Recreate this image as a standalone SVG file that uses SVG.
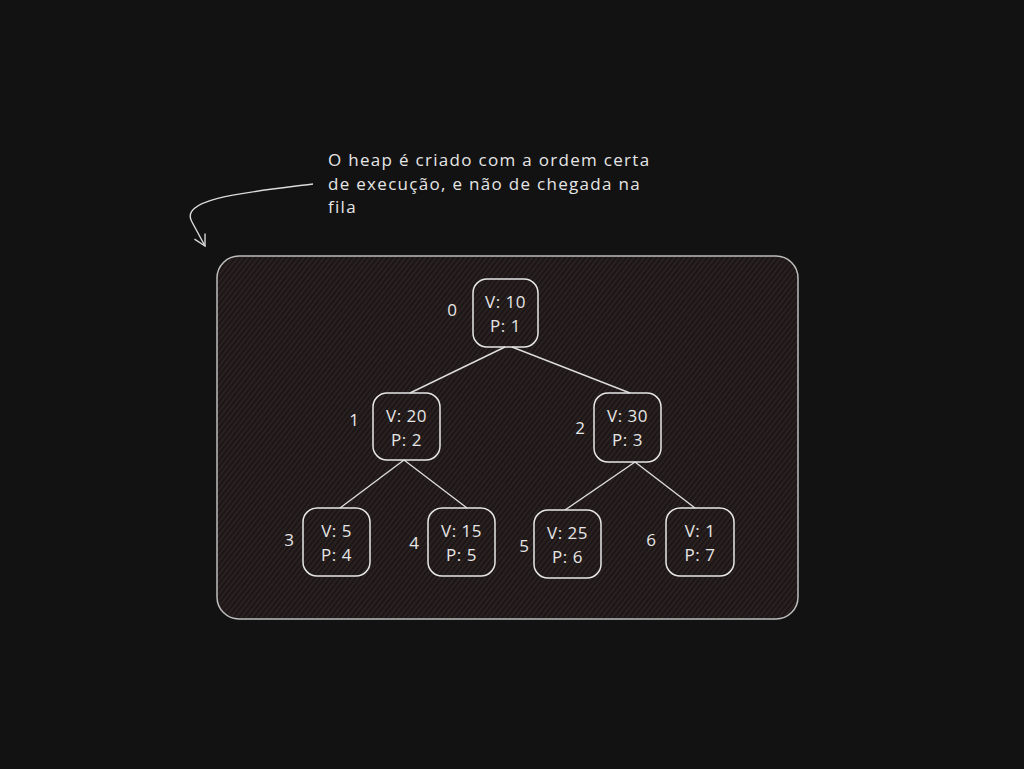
<svg xmlns="http://www.w3.org/2000/svg" width="1024" height="769" viewBox="0 0 1024 769">
<defs>
<pattern id="hatch" patternUnits="userSpaceOnUse" width="4" height="4" patternTransform="rotate(-52)">
<rect width="4" height="4" fill="#1c1616"/>
<line x1="0" y1="2" x2="4" y2="2" stroke="#342a2a" stroke-width="1.1"/>
</pattern>
<marker id="ah" markerWidth="14" markerHeight="14" refX="12" refY="7" orient="auto" markerUnits="userSpaceOnUse">
<path d="M1,1 L12,7 L1,13" fill="none" stroke="#d8d8d8" stroke-width="1.4"/>
</marker>
<style>
.box{fill:none;stroke:#e6e6e6;stroke-width:1.5}
.t{font-family:"Open Sans","Liberation Sans",sans-serif;font-size:17px;fill:#e6e6e6;text-anchor:middle;letter-spacing:0.5px}
.lbl{font-family:"Open Sans","Liberation Sans",sans-serif;font-size:17px;fill:#e6e6e6;text-anchor:middle}
.note{font-family:"Open Sans","Liberation Sans",sans-serif;font-size:17px;fill:#e6e6e6;letter-spacing:1.3px}
.e{stroke:#dcdcdc;stroke-width:1.4;fill:none}
</style>
</defs>
<rect width="1024" height="769" fill="#121212"/>
<g id="container">
<rect x="217" y="256" width="581" height="363" rx="22" fill="url(#hatch)" stroke="#bdbdbd" stroke-width="1.5"/>
</g>
<g id="note">
<text class="note" x="328" y="166">O heap é criado com a ordem certa</text>
<text class="note" x="328" y="190">de execução, e não de chegada na</text>
<text class="note" x="328" y="213">fila</text>
</g>
<g id="connectors">
<path class="e" d="M313,184 C 250,192 178,198 192,222 L205,246" marker-end="url(#ah)"/>
<line class="e" x1="505" y1="347" x2="410" y2="393"/>
<line class="e" x1="512" y1="347" x2="630" y2="393"/>
<line class="e" x1="404" y1="460" x2="340" y2="508"/>
<line class="e" x1="404" y1="460" x2="467" y2="508"/>
<line class="e" x1="635" y1="462" x2="565" y2="510"/>
<line class="e" x1="635" y1="462" x2="695" y2="508"/>
</g>
<g id="n0">
<rect class="box" x="473" y="279" width="65" height="68" rx="14"/>
<text class="t" x="505.5" y="308">V: 10</text>
<text class="t" x="505.5" y="332">P: 1</text>
<text class="lbl" x="452" y="316">0</text>
</g>
<g id="n1">
<rect class="box" x="373" y="393" width="67" height="67" rx="14"/>
<text class="t" x="406.5" y="422">V: 20</text>
<text class="t" x="406.5" y="446">P: 2</text>
<text class="lbl" x="354" y="426">1</text>
</g>
<g id="n2">
<rect class="box" x="594" y="393" width="67" height="69" rx="14"/>
<text class="t" x="627.5" y="422">V: 30</text>
<text class="t" x="627.5" y="446">P: 3</text>
<text class="lbl" x="580" y="434">2</text>
</g>
<g id="n3">
<rect class="box" x="303" y="508" width="67" height="68" rx="14"/>
<text class="t" x="336.5" y="537">V: 5</text>
<text class="t" x="336.5" y="561">P: 4</text>
<text class="lbl" x="289" y="546">3</text>
</g>
<g id="n4">
<rect class="box" x="428" y="508" width="67" height="68" rx="14"/>
<text class="t" x="461.5" y="537">V: 15</text>
<text class="t" x="461.5" y="561">P: 5</text>
<text class="lbl" x="414" y="549">4</text>
</g>
<g id="n5">
<rect class="box" x="534" y="510" width="67" height="68" rx="14"/>
<text class="t" x="567.5" y="539">V: 25</text>
<text class="t" x="567.5" y="563">P: 6</text>
<text class="lbl" x="524" y="552">5</text>
</g>
<g id="n6">
<rect class="box" x="666" y="508" width="68" height="68" rx="14"/>
<text class="t" x="700" y="537">V: 1</text>
<text class="t" x="700" y="561">P: 7</text>
<text class="lbl" x="651" y="546">6</text>
</g>
</svg>
